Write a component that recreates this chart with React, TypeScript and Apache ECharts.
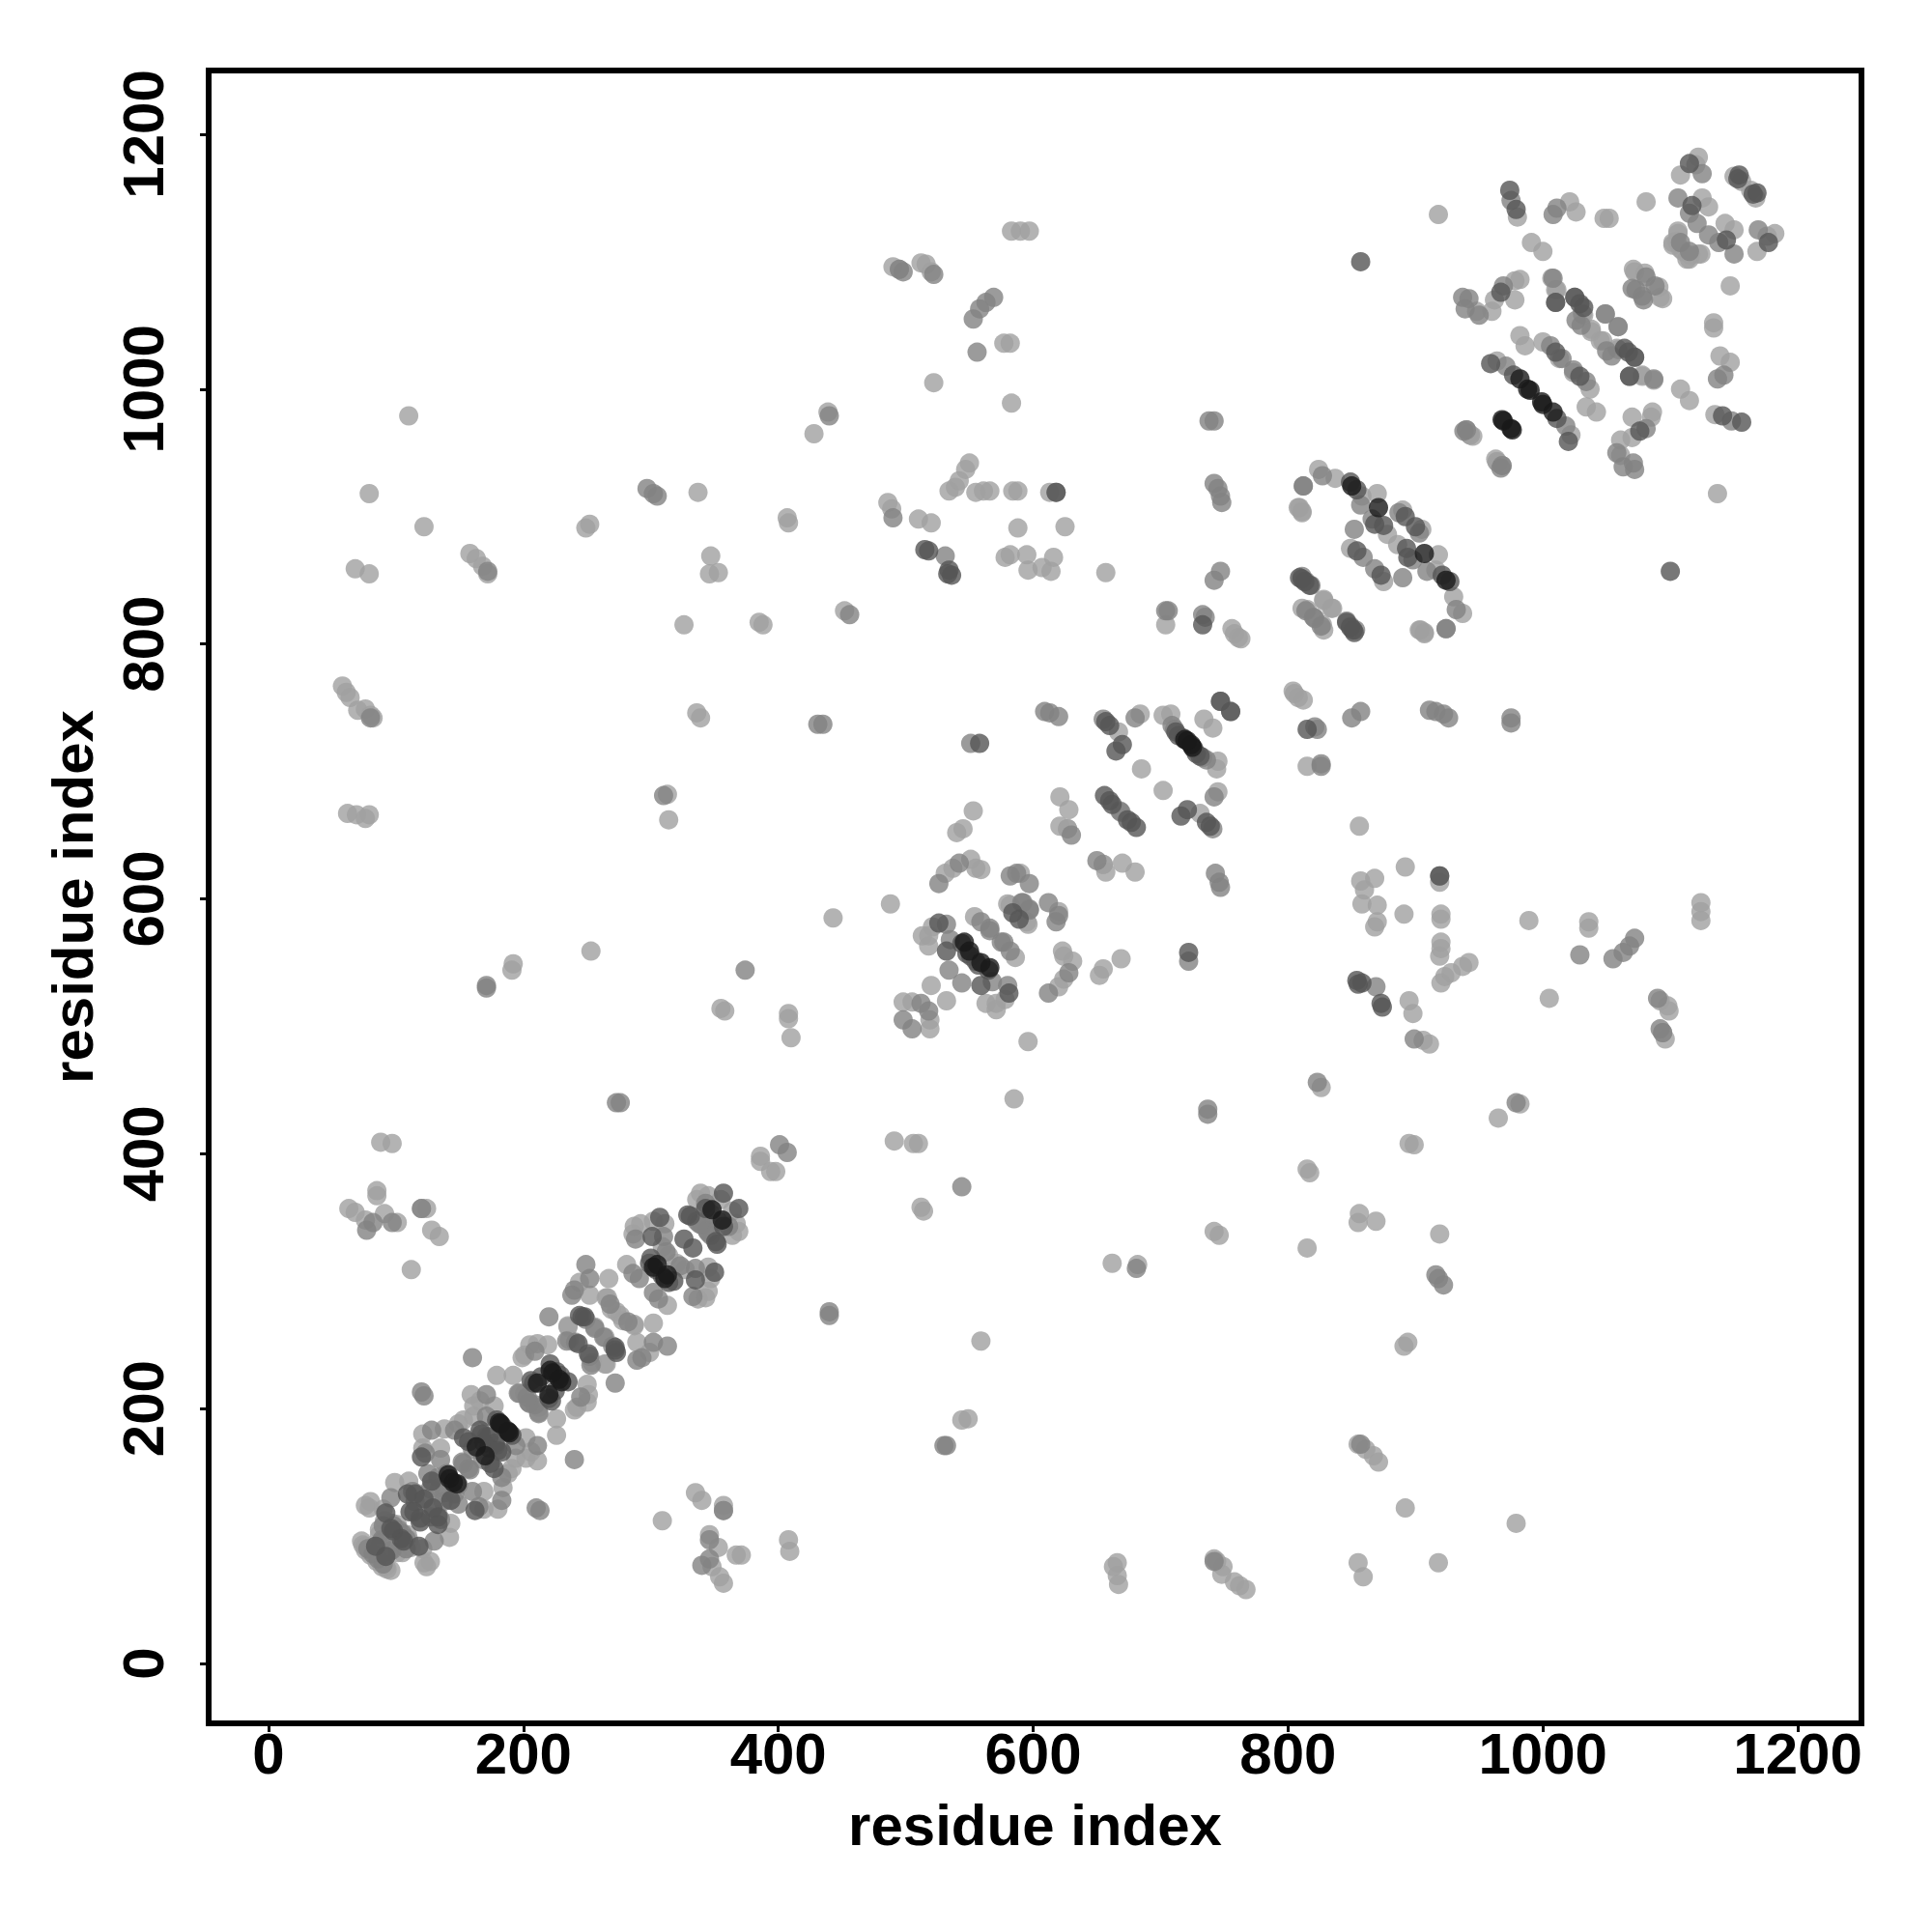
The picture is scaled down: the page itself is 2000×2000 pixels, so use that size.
import React, { useEffect, useRef } from "react";
import * as echarts from "echarts";

const tickValues = [0, 200, 400, 600, 800, 1000, 1200];
const axisTitle = "residue index";

// Contact pairs [i, j]; the map is symmetric, so each pair is also drawn as [j, i].
const contactsLight: number[][] = [
  [80,127],[79,122],[76,124],[90,121],[99,142],[74,93],[73,96],[85,80],[89,76],[92,76],[87,105],[96,110],[91,112],[101,109],[101,87],[110,97],
  [121,180],[138,184],[121,169],[135,169],[149,188],[153,191],[110,143],[129,124],[133,117],
  [159,211],[161,202],[177,202],[166,206],[161,194],[179,226],[192,226],
  [201,242],[199,240],[205,250],[211,251],[219,250],[201,212],[212,197],
  [267,302],[244,299],[252,289],[235,264],[256,264],[254,236],[265,235],[265,287],[278,269],[287,266],[276,273],
  [287,343],[292,345],[286,337],[302,347],[311,345],[309,327],[281,313],[320,314],
  [339,369],[345,367],[336,364],[355,364],[386,398],[386,394],
  [58,767],[61,762],[64,758],[70,748],[76,749],[80,744],[82,742],
  [62,667],[69,666],[76,663],[79,666],[68,859],[79,855],[79,918],[110,979],[122,892],
  [158,871],[163,867],[168,861],[172,855],[249,891],[252,894],[337,919],[326,815],
  [347,869],[346,855],[353,856],[385,817],[388,815],[407,899],[408,895],[452,826],
  [428,965],[439,982],[336,746],[339,742],[313,682],[314,662],[253,559],[191,544],[192,549],
  [355,514],[358,512],[408,510],[408,506],[410,491],[443,585],[488,596],[88,409],[97,408],[112,309],
  [63,357],[68,354],[76,348],[85,371],[85,367],[91,353],[101,346],[120,357],[124,357],[128,340],[134,335],
  [490,1096],[495,1094],[512,1099],[516,1098],[520,1092],[522,1005],[583,1124],[590,1124],[597,1124],
  [577,1036],[582,1036],[583,989],[486,911],[489,906],[510,898],[520,895],[534,920],[539,923],[542,928],[547,937],[550,942],
  [555,919],[561,920],[566,920],[584,920],[588,920],[613,919],[588,891],[625,892],[578,868],[582,870],[595,870],[596,858],[607,860],[616,868],[614,857],[657,856],
  [704,815],[756,812],[761,805],[553,669],[540,652],[545,655],[621,680],[621,657],[627,655],
  [531,620],[537,624],[551,631],[559,623],[555,624],[590,620],[580,596],[595,582],[521,578],[518,571],[513,571],[518,563],[554,586],[520,532],[498,519],[505,519],
  [667,731],[684,745],[702,744],[708,745],[734,741],[627,655],[628,670],[685,702],
  [824,937],[837,930],[809,907],[811,903],[858,916],[870,918],[878,886],[890,905],[849,875],[828,835],[834,828],[811,828],[827,815],[904,811],[907,808],[804,763],[808,758],
  [963,945],[940,968],[943,964],[918,1137],[991,1115],[1000,1108],
  [948,1061],[960,1061],[962,1070],[978,1070],[982,1086],[978,1085],[1007,1087],[1011,1078],[1031,1059],[1038,1047],[1059,1049],[1045,1038],[1058,1032],[1078,1010],
  [1072,1092],[1091,1080],[1094,1071],[982,1042],[986,1034],[964,1022],[1000,1037],[1013,1024],[942,965],[964,943],
  [1122,1182],[1108,1168],[1120,1176],[1150,1167],[1156,1163],[1081,1147],[1130,1143],[1125,1150],[1106,1122],[1102,1115],[1116,1105],[1124,1106],[1113,1102],[1110,1108],
  [980,1135],[1021,1147],[1026,1139],[1048,1134],[1052,1134],
];

const contactsMid: number[][] = [
  [96,130],[82,86],[78,90],[89,97],[95,88],[105,102],[108,98],[108,90],
  [128,183],[123,165],[135,160],[146,183],[113,135],[134,138],[125,149],[127,115],[137,127],[146,133],[152,158],[157,153],[149,140],
  [160,240],[120,213],[122,210],[171,211],[171,194],[171,178],[168,160],
  [209,245],[196,212],[204,205],[209,203],
  [249,313],[252,302],[238,289],[240,293],[220,272],[234,253],[249,270],[263,256],[252,241],[268,282],
  [288,333],[310,335],[312,323],[291,302],[286,306],
  [343,361],[336,347],[340,344],[345,338],[353,347],[401,407],
  [80,742],[172,857],[297,922],[302,918],[305,916],[456,823],[310,681],[431,737],[435,737],[171,530],[171,532],[374,544],[273,440],[276,440],
  [77,340],[82,346],[97,346],[120,357],[440,979],[495,1094],[498,1092],[522,1090],[553,1055],[558,1063],[563,1068],[569,1072],[556,1029],
  [490,899],[531,869],[618,919],[704,826],[706,826],[733,823],[735,821],[742,850],[747,857],[738,975],[742,975],[742,926],[745,922],[747,916],[748,911],
  [526,612],[542,628],[587,620],[597,612],[582,618],[592,597],[597,591],[535,568],[532,580],[559,582],[566,577],[575,566],[534,544],[512,518],[498,505],[630,650],
  [655,741],[680,742],[709,736],[733,711],[747,755],[609,747],[613,746],[620,743],[669,668],[551,722],
  [827,932],[812,924],[857,909],[866,898],[852,890],[887,903],[859,868],[814,849],[818,846],[814,826],[820,821],[853,811],[924,812],[968,940],
  [937,1072],[942,1071],[939,1063],[950,1058],[969,1081],[1026,1054],[1049,1059],[1050,1030],[1072,1025],[1068,1010],[1087,1008],[1081,1088],[1073,1078],[1079,1070],[1006,1034],[1024,1015],[971,1018],[938,967],
  [1125,1169],[1106,1150],[1115,1138],[1121,1130],[1108,1115],[975,1148],[1011,1142],[1008,1137],
];

const contactsDark: number[][] = [
  [120,162],[109,133],[115,133],[122,129],[128,143],[111,119],[119,114],[84,92],[98,104],[106,96],[92,118],
  [166,183],[157,174],[153,177],[173,169],[178,173],[187,183],[191,179],[180,167],
  [206,222],[214,225],[220,208],[229,226],[235,221],
  [243,251],[244,273],[272,246],[272,248],
  [307,350],[301,335],[299,314],[300,318],[309,304],[329,352],[331,351],[343,357],[357,369],[326,333],
  [515,874],[518,873],[534,858],[533,855],[536,854],[618,919],[733,815],[857,1100],
  [526,581],[532,559],[544,565],[548,557],[555,551],[584,589],
  [660,736],[657,739],[670,721],[665,716],[712,731],[718,726],[714,728],[656,681],[660,677],[662,674],[558,722],[747,755],
  [849,927],[854,921],[868,894],[875,893],[892,900],[854,873],[809,852],[811,851],[846,817],[849,813],
  [967,1076],[1010,1068],[1025,1072],[1029,1067],[1064,1032],[959,1020],[977,1011],[1010,1029],
  [1115,1177],[1154,1168],[1165,1153],[1117,1144],[974,1156],[979,1141],
];

const contactsBlack: number[][] = [
  [141,148],[142,145],[181,189],[182,188],[163,170],[221,230],[223,228],[211,220],
  [302,311],[305,313],[348,356],[546,566],[550,559],
  [850,924],[871,907],[969,975],[976,968],[982,1008],[990,999],[988,1000],[719,725],[724,721],
];

const mirrored = (pairs: number[][]) => pairs.flatMap(([i, j]) => [[i, j], [j, i]]);

const levels: { data: number[][]; color: string }[] = [
  { data: contactsLight, color: "#a0a0a0" },
  { data: contactsMid, color: "#828282" },
  { data: contactsDark, color: "#555555" },
  { data: contactsBlack, color: "#191919" },
];

const font = "'Liberation Sans', Arial, sans-serif";

export default function App() {
  const ref = useRef<HTMLDivElement>(null);
  useEffect(() => {
    if (!ref.current) return;
    const chart = echarts.init(ref.current, undefined, { renderer: "svg" });
    const axisBase = {
      type: "value" as const,
      min: -47,
      max: 1250,
      name: axisTitle,
      nameLocation: "middle" as const,
      nameTextStyle: { fontFamily: font, fontWeight: "bold" as const, fontSize: 60, color: "#000" },
      axisLine: { show: false, onZero: false },
      splitLine: { show: false },
      axisTick: { show: true, length: 9, lineStyle: { color: "#000", width: 3 }, customValues: tickValues },
    };
    chart.setOption({
      animation: false,
      backgroundColor: "#fff",
      grid: { left: 216, top: 73, width: 1711, height: 1711, show: true, borderColor: "#000", borderWidth: 6, backgroundColor: "transparent" },
      xAxis: {
        ...axisBase,
        nameGap: 75,
        axisLabel: { customValues: tickValues, formatter: (v: number) => String(v), margin: 1, fontFamily: font, fontWeight: "bold", fontSize: 60, color: "#000" },
      },
      yAxis: {
        ...axisBase,
        nameGap: 111,
        axisLabel: { customValues: tickValues, formatter: (v: number) => String(v), rotate: 90, margin: 38, fontFamily: font, fontWeight: "bold", fontSize: 60, color: "#000" },
      },
      series: levels.map((l) => ({
        type: "scatter",
        symbol: "circle",
        symbolSize: 20,
        silent: true,
        itemStyle: { color: l.color, borderWidth: 0 },
        data: mirrored(l.data),
      })),
    });
    return () => chart.dispose();
  }, []);
  return <div ref={ref} style={{ position: "absolute", left: 0, top: 0, width: 2000, height: 2000 }} />;
}
